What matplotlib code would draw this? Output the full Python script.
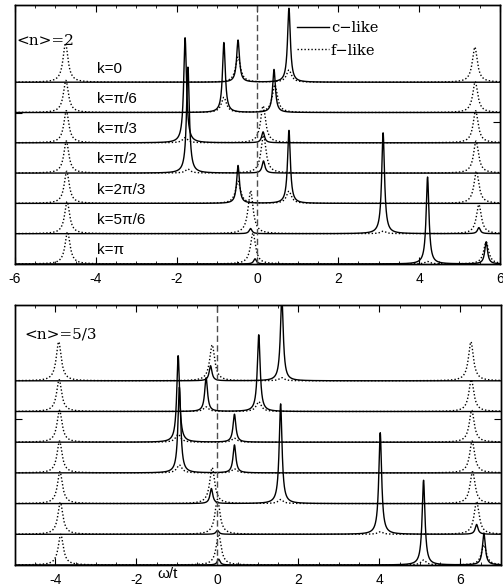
import numpy as np
import matplotlib
matplotlib.use('Agg')
import matplotlib.pyplot as plt
from matplotlib.lines import Line2D

plt.rcParams['axes.unicode_minus'] = False
plt.rcParams['font.family'] = ['Liberation Sans', 'DejaVu Sans']

# Etiquetas das linhas (so no painel de cima)
k_labels = ['k=0', 'k=π/6', 'k=π/3', 'k=π/2', 'k=2π/3', 'k=5π/6', 'k=π']

# Painel <n>=2 : posicoes (omega/t) e alturas dos picos, uma lista por k
top_c_pos = [[-0.48, 0.78], [-0.83, 0.41], [-1.79, 0.14], [-1.72, 0.15],
             [-0.48, 0.78], [-0.17, 3.11, 5.48], [-0.06, 4.21, 5.66]]
top_c_amp = [[1.39, 2.44], [2.31, 1.42], [3.47, 0.36], [3.50, 0.40],
             [1.25, 2.41], [0.17, 3.33, 0.20], [0.17, 2.87, 0.73]]
top_f_pos = [[-4.75, -0.48, 0.78, 5.38], [-4.74, -0.83, 0.43, 5.39],
             [-4.73, -1.79, 0.14, 5.40], [-4.73, -1.72, 0.15, 5.41],
             [-4.72, -0.48, 0.78, 5.42], [-4.71, -0.17, 3.11, 5.48],
             [-4.70, -0.11, 4.21, 5.66]]
top_f_amp = [[1.29, 0.83, 0.40, 1.16], [1.06, 0.50, 0.92, 1.02],
             [1.06, 0.17, 1.22, 1.06], [1.06, 0.13, 1.25, 1.06],
             [1.06, 0.73, 0.40, 1.06], [1.06, 1.42, 0.08, 0.96],
             [1.06, 1.02, 0.08, 0.73]]

# Painel <n>=5/3
bot_c_pos = [[-0.17, 1.59], [-0.28, 1.02], [-0.97, 0.42], [-0.94, 0.42],
             [-0.15, 1.56], [0.00, 4.02, 6.40], [0.03, 5.09, 6.58]]
bot_c_amp = [[0.49, 2.75], [1.10, 2.50], [2.82, 0.91], [2.79, 0.91],
             [0.49, 3.25], [0.13, 3.31, 0.32], [0.19, 2.76, 1.04]]
bot_f_pos = [[-3.92, -0.13, 1.59, 6.26], [-3.91, -0.28, 1.02, 6.27],
             [-3.90, -0.97, 0.42, 6.28], [-3.90, -0.94, 0.42, 6.29],
             [-3.89, -0.13, 1.56, 6.30], [-3.88, 0.00, 4.02, 6.40],
             [-3.87, 0.03, 5.09, 6.58]]
bot_f_amp = [[1.27, 1.17, 0.10, 1.27], [1.04, 0.15, 0.32, 1.04],
             [1.04, 0.26, 0.13, 1.04], [1.04, 0.26, 0.13, 1.04],
             [1.04, 1.17, 0.13, 1.04], [1.04, 1.14, 0.08, 1.07],
             [1.00, 1.00, 0.16, 0.65]]

gam_c = 0.042
gam_f = 0.075


def espectro(w, pos, amp, gam):
    a = np.zeros_like(w)
    for p, h in zip(pos, amp):
        a += h * gam**2 / ((w - p)**2 + gam**2)
    return a


def painel(ax, xlim, ylim, c_pos, c_amp, f_pos, f_amp, ytick_l, ytick_r):
    w = np.linspace(xlim[0], xlim[1], 6000)
    n = len(c_pos)
    for i in range(n):
        base = n - 1 - i
        ax.plot(w, base + espectro(w, c_pos[i], c_amp[i], gam_c),
                color='black', lw=1.0)
        ax.plot(w, base + espectro(w, f_pos[i], f_amp[i], gam_f),
                color='black', lw=1.0, linestyle=(0, (1, 1.5)))
    ax.axvline(0, color='0.3', lw=1.0, linestyle=(0, (4.5, 2.5)))
    ax.set_xlim(xlim)
    ax.set_ylim(ylim)
    ax.xaxis.set_major_locator(plt.MultipleLocator(2))
    ax.xaxis.set_minor_locator(plt.MultipleLocator(0.5))
    ax.tick_params(axis='x', which='both', direction='in', top=True)
    ax.tick_params(axis='x', which='major', length=5, pad=6, labelsize=10)
    ax.tick_params(axis='x', which='minor', length=2.5)
    ax.set_yticks([ytick_l])
    ax.tick_params(axis='y', direction='in', length=5, labelleft=False)
    ax2 = ax.twinx()
    ax2.set_ylim(ylim)
    ax2.set_yticks([ytick_r])
    ax2.tick_params(axis='y', direction='in', length=5, labelright=False)
    for a in (ax, ax2):
        for s in a.spines.values():
            s.set_linewidth(1.0)


fig = plt.figure(figsize=(5.03, 5.87), dpi=100)
ax_top = fig.add_axes([0.0298, 0.5503, 0.964, 0.4412])
ax_bot = fig.add_axes([0.0298, 0.0375, 0.966, 0.4429])

painel(ax_top, (-6, 6), (0, 8.55), top_c_pos, top_c_amp, top_f_pos, top_f_amp, 5.0, 4.7)
painel(ax_bot, (-5, 7), (0, 8.47), bot_c_pos, bot_c_amp, bot_f_pos, bot_f_amp, 4.74, 4.74)

# rotulos de k
for i, lab in enumerate(k_labels):
    ax_top.text(-3.97, len(k_labels) - 1 - i + 0.45, lab, fontsize=11,
                va='center', ha='left')

ax_top.text(0.003, 0.861, '<n>=2', transform=ax_top.transAxes,
            fontsize=11, family='DejaVu Serif', va='center', ha='left')
ax_bot.text(0.02, 0.885, '<n>=5/3', transform=ax_bot.transAxes,
            fontsize=11, family='DejaVu Serif', va='center', ha='left')
ax_bot.text(0.315, -0.034, 'ω/t', transform=ax_bot.transAxes,
            fontsize=11, va='center', ha='center')

# legenda
handles = [Line2D([], [], color='black', lw=1.0),
           Line2D([], [], color='black', lw=1.0, linestyle=(0, (1, 1.5)))]
ax_top.legend(handles, ['c−like', 'f−like'], loc='upper left',
              bbox_to_anchor=(0.581, 0.939), frameon=False, borderpad=0,
              borderaxespad=0, handlelength=2.2, handletextpad=0.15,
              labelspacing=0.6, prop={'family': 'DejaVu Serif', 'size': 10.5})

fig.savefig('out.png', dpi=100)
